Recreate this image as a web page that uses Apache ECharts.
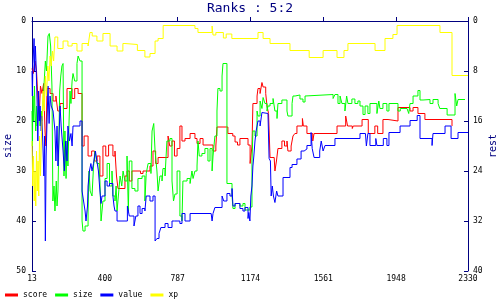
<!DOCTYPE html>
<html>
<head>
<meta charset="utf-8">
<script src="https://cdn.jsdelivr.net/npm/echarts@6/dist/echarts.min.js"></script>
<style>html,body{margin:0;padding:0;background:#fff}#c{width:500px;height:300px}</style>
</head>
<body>
<div id="c"></div>
<script>
var titleText = 'Ranks : 5:2';
var seriesNames = ['score', 'size', 'value', 'xp'];
var xTicks = [13, 400, 787, 1174, 1561, 1948, 2330];

var score = [[13,9.5],[20,10.5],[29,8],[37,10],[45,16],[52,18.5],[58,13],[66,14.5],[75,12.5],[82,22],[87,25],[93,13.5],[109,14.5],[125,16],[140,15],[150,18],[162,16.5],[180,17.5],[199,13.5],[226,15.5],[240,13.5],[258,14.5],[279,25],[290,23],[311,27],[330,26],[345,28],[359,27],[374,31],[390,25],[405,27],[420,24.8],[443,27],[454,26],[462,31],[470,33.5],[507,31],[518,30],[530,32],[544,30],[590,30.5],[603,30],[640,29],[656,26],[670,28.5],[683,27.3],[736,23],[745,25],[757,24],[770,27],[784,25.5],[799,21],[810,24],[826,23.5],[853,22.5],[879,23.5],[890,24.5],[906,23.5],[922,24.8],[975,26],[990,25],[996,21.2],[1054,22.5],[1080,23],[1092,24.2],[1105,24.8],[1118,23.5],[1161,24.8],[1172,28.5],[1182,25],[1187,16.5],[1209,15],[1214,13.5],[1225,14.5],[1235,12.3],[1241,13.2],[1255,14.5],[1262,17],[1270,18.5],[1278,27.3],[1300,27.3],[1304,30],[1312,28],[1320,25.5],[1341,24],[1355,25],[1368,24],[1373,26],[1390,25],[1400,23],[1410,22.5],[1421,21],[1450,19.5],[1455,21],[1474,22.5],[1505,24],[1512,22.5],[1634,21],[1680,19],[1690,21],[1715,21.5],[1720,21],[1767,19.7],[1800,22.5],[1835,21],[1850,22.5],[1878,19.7],[1905,20],[1958,17.3],[2022,18],[2038,17.3],[2064,18.5],[2101,19.7],[2245,21]];

var size = [[13,18],[15,25],[18,15],[22,20],[26,13],[29,18],[33,22],[37,17],[40,21],[45,19],[50,17],[56,21],[62,18],[66,20],[72,16],[78,12],[84,8],[90,10],[98,3],[105,2.5],[112,5],[119,13],[124,36],[130,33],[135,38],[142,32],[146,37],[151,34],[155,26],[160,14],[166,11],[172,9],[178,8.5],[183,31],[188,22],[194,31.5],[199,24],[204,29],[210,20],[215,14],[220,16.5],[226,12],[231,10.5],[240,12],[252,8.5],[258,7],[268,8],[279,40],[284,42],[295,41],[311,38],[316,30],[322,34],[332,35],[340,29],[348,26],[358,28.5],[370,30],[374,32],[380,40],[390,36],[401,31.5],[412,28.5],[425,33],[438,30],[443,35],[454,36],[460,33],[465,38],[472,35],[481,31],[490,33],[497,30],[507,32],[518,27],[525,38],[530,28],[544,33.5],[560,34],[576,31.5],[598,31],[613,36],[620,30.5],[630,28.5],[645,30.5],[651,22],[660,20.5],[667,26],[677,30],[683,34],[693,31],[704,32],[709,29.5],[720,31],[730,24],[746,23.5],[757,32],[765,36],[773,34.6],[784,30],[799,39],[810,40],[815,32],[837,31.5],[853,32.5],[863,30],[869,31.5],[879,30],[890,29],[895,24],[902,27],[916,26.5],[932,25.5],[948,28],[959,25.5],[970,30],[975,27],[985,23],[996,18],[1001,13.5],[1012,14],[1023,11],[1028,8.5],[1049,32.5],[1076,35],[1081,37.5],[1092,36.5],[1118,37],[1134,36.5],[1145,37.8],[1171,37.2],[1182,28],[1187,22],[1198,23],[1209,18],[1214,19],[1225,16],[1235,17.5],[1241,15.3],[1251,16.5],[1262,18],[1267,17],[1278,16.5],[1294,15.5],[1304,18],[1315,19.5],[1320,16.5],[1341,15.8],[1368,18],[1373,19],[1395,16.5],[1400,15],[1411,14.8],[1437,15.6],[1453,16.2],[1464,15],[1474,14.7],[1613,15.5],[1623,14.7],[1639,16.5],[1650,15],[1660,16.5],[1676,18],[1685,15],[1692,16.5],[1713,15.6],[1729,16.5],[1745,16],[1756,17],[1772,18.7],[1783,17],[1798,18.5],[1809,16.5],[1846,18.5],[1856,16],[1862,17.5],[1878,16.5],[1899,18],[1910,16.5],[1958,18],[1970,17.5],[2006,17.5],[2015,18.5],[2022,16.5],[2038,15],[2064,13.9],[2075,15.8],[2091,15.7],[2128,16.5],[2144,15.7],[2171,16.5],[2180,17.5],[2197,17.5],[2219,18.8],[2250,18.8],[2261,14.5],[2270,17],[2277,15.7],[2314,15.7]];

var value = [[13,10],[15,15],[18,8.5],[21,6],[24,3.5],[27,10],[31,5],[35,9],[40,16],[44,24],[48,14],[52,20],[56,17],[62,22],[66,19],[71,25],[76,31],[80,23],[84,44],[88,27],[93,20],[98,13],[104,20.5],[109,15],[115,17],[125,18],[135,22],[140,28],[146,21],[151,29],[156,24],[162,17],[168,21],[178,26],[185,30],[192,24],[199,28],[204,21],[212,24],[220,22.5],[226,25],[231,21],[268,20],[279,34],[287,36],[295,38],[300,40],[308,37],[311,33],[318,30],[326,28.5],[332,30],[340,28.5],[350,26],[358,28],[366,30],[374,34],[380,36.5],[385,35],[401,32],[412,33],[425,32.5],[443,35],[449,37],[454,38],[465,40],[507,40],[520,37],[530,39],[544,39],[555,41],[565,39],[576,37],[587,38.5],[598,37.5],[613,38],[620,35],[640,36],[656,35],[667,44],[677,43.5],[688,42.5],[698,41.3],[720,40.5],[736,41.3],[757,40],[770,40],[784,40],[799,40.5],[810,38.5],[826,40],[853,38.5],[965,38.5],[970,40],[975,38.5],[985,37.3],[1012,37.3],[1023,35],[1032,36],[1049,34.5],[1065,35],[1076,33.5],[1081,37],[1092,36.5],[1118,37.5],[1134,38],[1145,37.3],[1161,39.5],[1165,38.3],[1171,40],[1176,35],[1182,33],[1187,29],[1192,27],[1198,24],[1204,22],[1214,20],[1225,21],[1235,18.3],[1241,18.5],[1267,18.5],[1273,27.5],[1280,28],[1284,35],[1290,33],[1296,35],[1304,36.3],[1313,34],[1320,35],[1347,31.3],[1384,29.3],[1395,28.7],[1421,27.6],[1443,26],[1459,25.6],[1474,24.9],[1496,22.3],[1502,25.5],[1512,27.3],[1542,26],[1550,24],[1560,26],[1570,24.9],[1623,23.5],[1756,22.5],[1785,22.5],[1790,25],[1798,22.5],[1809,24.9],[1840,23.5],[1846,24.9],[1880,23.5],[1899,24.9],[1910,22.3],[1969,21],[2022,19.9],[2060,18.9],[2075,23.5],[2139,24.9],[2144,22.5],[2208,21],[2240,23.5],[2277,22.3],[2330,22.3]];

var xp = [[13,24],[17,33],[21,27],[25,36],[29,30],[33,37],[37,26],[41,34],[45,28],[49,35],[53,23],[58,31],[62,25],[66,20],[72,14],[78,18],[84,11],[90,15],[97,9],[103,12],[109,7],[115,9],[122,6],[128,8],[135,3.2],[150,5.5],[178,4],[204,5],[226,4.5],[252,6],[279,4.5],[311,5],[321,2.3],[333,3],[358,4],[390,2.5],[428,5],[465,6],[496,4.5],[507,4.7],[573,5.9],[613,7.2],[640,6.5],[667,4],[683,3.5],[710,0.9],[879,1.5],[895,2.3],[970,1],[975,2.8],[990,2.3],[1030,3.4],[1045,2.6],[1075,3.5],[1214,2.3],[1241,3.5],[1278,4.5],[1384,5.9],[1486,7.3],[1560,5.9],[1634,7.3],[1671,5.9],[1692,4.5],[1836,5.9],[1889,3.5],[1931,2.7],[1953,0.9],[2181,2.3],[2245,10.9],[2330,10.9]];

var navy = '#000080';
var mono = '"DejaVu Sans Mono", monospace';
var colors = ['#ff0000', '#00ff00', '#0000ff', '#ffff00'];
var allData = [score, size, value, xp];

var chart = echarts.init(document.getElementById('c'), null, {renderer: 'canvas'});
chart.setOption({
  animation: false,
  backgroundColor: '#fff',
  title: {
    text: titleText, left: 'center', top: 0, padding: [2, 5, 5, 5],
    textStyle: {color: navy, fontFamily: mono, fontSize: 13, fontWeight: 'normal'}
  },
  legend: {
    left: 5, bottom: 1, padding: 0, itemGap: 8, itemWidth: 13, itemHeight: 3, icon: 'rect',
    textStyle: {color: '#000', fontFamily: mono, fontSize: 8},
    data: seriesNames
  },
  grid: {left: 32, right: 32, top: 21, bottom: 29, containLabel: false, outerBoundsMode: 'none'},
  xAxis: {
    type: 'value', min: 13, max: 2330,
    axisLine: {lineStyle: {color: navy, width: 1}},
    axisTick: {inside: true, length: 4, lineStyle: {color: navy}, customValues: xTicks},
    axisLabel: {color: '#000', fontFamily: mono, fontSize: 8, margin: 4, customValues: xTicks,
      formatter: function (v) { return String(v); }},
    splitLine: {show: false}
  },
  yAxis: [{
    type: 'value', min: 0, max: 50, interval: 10, inverse: true, position: 'left',
    name: 'size', nameLocation: 'middle', nameGap: 19, nameRotate: 90, nameMoveOverlap: false,
    nameTextStyle: {color: navy, fontFamily: mono, fontSize: 10},
    axisLine: {show: true, lineStyle: {color: navy}},
    axisTick: {show: true, inside: true, length: 4, lineStyle: {color: navy}},
    axisLabel: {color: '#000', fontFamily: mono, fontSize: 8, margin: 6},
    splitLine: {show: false}
  }, {
    type: 'value', min: 0, max: 40, interval: 8, inverse: true, position: 'right',
    name: 'rest', nameLocation: 'middle', nameGap: 20, nameRotate: 90, nameMoveOverlap: false,
    nameTextStyle: {color: navy, fontFamily: mono, fontSize: 10},
    axisLine: {show: true, lineStyle: {color: navy}},
    axisTick: {show: true, inside: true, length: 4, lineStyle: {color: navy}},
    axisLabel: {color: '#000', fontFamily: mono, fontSize: 8, margin: 5},
    splitLine: {show: false}
  }],
  series: seriesNames.map(function (n, i) {
    return {
      name: n, type: 'line', step: 'end', yAxisIndex: 0,
      data: allData[i], showSymbol: false, symbol: 'none',
      lineStyle: {color: colors[i], width: 1},
      itemStyle: {color: colors[i]}
    };
  })
});
</script>
</body>
</html>
